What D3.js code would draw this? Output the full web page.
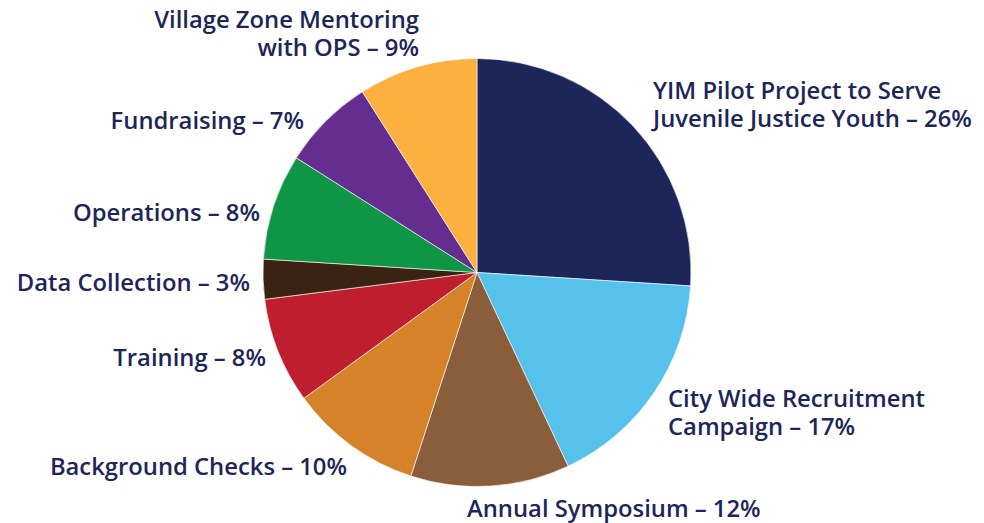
<!DOCTYPE html>
<html>
<head>
<meta charset="utf-8">
<script src="https://cdn.jsdelivr.net/npm/d3@7"></script>
<style>
  body { margin: 0; background: #fff; }
  svg { display: block; }
</style>
</head>
<body>
<script>
// budget categories, clockwise from 12 o'clock
const categories = [
  "YIM Pilot Project to Serve Juvenile Justice Youth",
  "City Wide Recruitment Campaign",
  "Annual Symposium",
  "Background Checks",
  "Training",
  "Data Collection",
  "Operations",
  "Fundraising",
  "Village Zone Mentoring with OPS"
];
const values = [26, 17, 12, 10, 8, 3, 8, 7, 9];
const colors = ["#1c2659", "#56c2eb", "#8a5d3b", "#d68229", "#be1e2d", "#3b2314", "#0e9646", "#662d91", "#fbb040"];

// label lines as they break in the picture
const labelLines = [
  ["YIM Pilot Project to Serve", "Juvenile Justice Youth – 26%"],
  ["City Wide Recruitment", "Campaign – 17%"],
  ["Annual Symposium – 12%"],
  ["Background Checks – 10%"],
  ["Training – 8%"],
  ["Data Collection – 3%"],
  ["Operations – 8%"],
  ["Fundraising – 7%"],
  ["Village Zone Mentoring", "with OPS – 9%"]
];
// where each label sits: anchor point and alignment
const labelPos = [
  { x: 653, y: 99, anchor: "start" },
  { x: 668, y: 407, anchor: "start" },
  { x: 467, y: 517, anchor: "start" },
  { x: 347, y: 475, anchor: "end" },
  { x: 266, y: 366, anchor: "end" },
  { x: 250, y: 291, anchor: "end" },
  { x: 260, y: 221, anchor: "end" },
  { x: 304, y: 129, anchor: "end" },
  { x: 419, y: 28, anchor: "end" }
];

const width = 984, height = 523;
const cx = 477, cy = 272.5, radius = 214;

const svg = d3.select("body").append("svg")
    .attr("width", width)
    .attr("height", height);

const data = categories.map((c, i) => ({ name: c, value: values[i], i }));

const pie = d3.pie().sort(null).value(d => d.value);
const arc = d3.arc().innerRadius(0).outerRadius(radius);

const g = svg.append("g").attr("transform", `translate(${cx},${cy})`);

g.selectAll("path")
    .data(pie(data))
    .enter().append("path")
    .attr("d", arc)
    .attr("fill", d => colors[d.data.i])
    .attr("stroke", "#ffffff")
    .attr("stroke-width", 0.6);

// labels, one text element per line
data.forEach(d => {
    labelLines[d.i].forEach((line, k) => {
        svg.append("text")
            .attr("class", "lbl")
            .attr("x", labelPos[d.i].x)
            .attr("y", labelPos[d.i].y + k * 27.5)
            .attr("text-anchor", labelPos[d.i].anchor)
            .attr("fill", "#1c2659")
            .style("font-family", "'Open Sans', sans-serif")
            .style("font-weight", 600)
            .style("font-size", "23.8px")
            .text(line);
    });
});
</script>
</body>
</html>
